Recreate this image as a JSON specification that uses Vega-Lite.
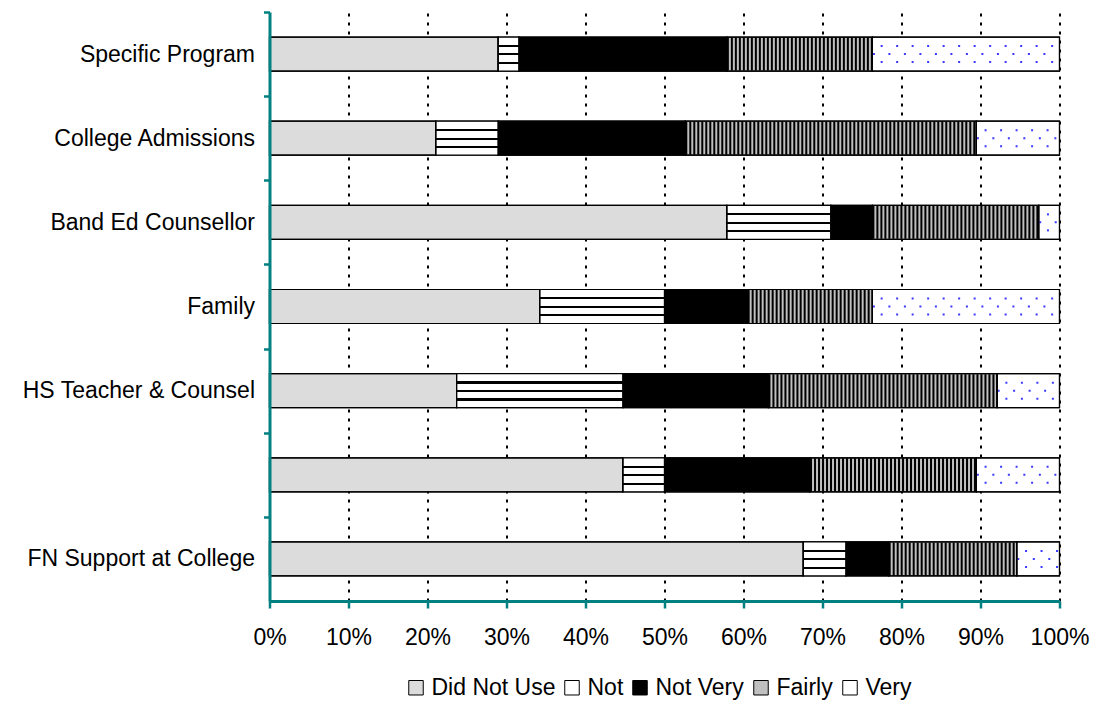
{
  "$schema": "https://vega.github.io/schema/vega-lite/v6.json",
  "width": 790,
  "height": 589,
  "autosize": {"type": "none"},
  "padding": {"left": 269.5, "top": 12, "right": 36.5, "bottom": 102},
  "background": "white",
  "config": {
    "font": "Liberation Sans",
    "view": {"stroke": null},
    "axis": {"labelFont": "Liberation Sans", "labelFontSize": 23, "labelColor": "#000", "title": null},
    "legend": {"labelFont": "Liberation Sans", "labelFontSize": 23, "labelColor": "#000", "padding": 0}
  },
  "data": {
    "values": [
      {"source": "Specific Program", "response": "Did Not Use", "k": 1, "n": 11},
      {"source": "Specific Program", "response": "Not", "k": 2, "n": 1},
      {"source": "Specific Program", "response": "Not Very", "k": 3, "n": 10},
      {"source": "Specific Program", "response": "Fairly", "k": 4, "n": 7},
      {"source": "Specific Program", "response": "Very", "k": 5, "n": 9},
      {"source": "College Admissions", "response": "Did Not Use", "k": 1, "n": 8},
      {"source": "College Admissions", "response": "Not", "k": 2, "n": 3},
      {"source": "College Admissions", "response": "Not Very", "k": 3, "n": 9},
      {"source": "College Admissions", "response": "Fairly", "k": 4, "n": 14},
      {"source": "College Admissions", "response": "Very", "k": 5, "n": 4},
      {"source": "Band Ed Counsellor", "response": "Did Not Use", "k": 1, "n": 22},
      {"source": "Band Ed Counsellor", "response": "Not", "k": 2, "n": 5},
      {"source": "Band Ed Counsellor", "response": "Not Very", "k": 3, "n": 2},
      {"source": "Band Ed Counsellor", "response": "Fairly", "k": 4, "n": 8},
      {"source": "Band Ed Counsellor", "response": "Very", "k": 5, "n": 1},
      {"source": "Family", "response": "Did Not Use", "k": 1, "n": 13},
      {"source": "Family", "response": "Not", "k": 2, "n": 6},
      {"source": "Family", "response": "Not Very", "k": 3, "n": 4},
      {"source": "Family", "response": "Fairly", "k": 4, "n": 6},
      {"source": "Family", "response": "Very", "k": 5, "n": 9},
      {"source": "HS Teacher & Counsel", "response": "Did Not Use", "k": 1, "n": 9},
      {"source": "HS Teacher & Counsel", "response": "Not", "k": 2, "n": 8},
      {"source": "HS Teacher & Counsel", "response": "Not Very", "k": 3, "n": 7},
      {"source": "HS Teacher & Counsel", "response": "Fairly", "k": 4, "n": 11},
      {"source": "HS Teacher & Counsel", "response": "Very", "k": 5, "n": 3},
      {"source": " ", "response": "Did Not Use", "k": 1, "n": 17},
      {"source": " ", "response": "Not", "k": 2, "n": 2},
      {"source": " ", "response": "Not Very", "k": 3, "n": 7},
      {"source": " ", "response": "Fairly", "k": 4, "n": 8},
      {"source": " ", "response": "Very", "k": 5, "n": 4},
      {"source": "FN Support at College", "response": "Did Not Use", "k": 1, "n": 25},
      {"source": "FN Support at College", "response": "Not", "k": 2, "n": 2},
      {"source": "FN Support at College", "response": "Not Very", "k": 3, "n": 2},
      {"source": "FN Support at College", "response": "Fairly", "k": 4, "n": 6},
      {"source": "FN Support at College", "response": "Very", "k": 5, "n": 2}
    ]
  },
  "transform": [
    {"stack": "n", "groupby": ["source"], "sort": [{"field": "k", "order": "ascending"}], "offset": "normalize", "as": ["x0", "x1"]}
  ],
  "encoding": {
    "y": {
      "field": "source",
      "type": "nominal",
      "sort": null,
      "scale": {"paddingInner": 0.596, "paddingOuter": 0.298},
      "axis": {
        "zindex": 1,
        "domainColor": "#008080",
        "domainWidth": 3,
        "tickColor": "#008080",
        "tickWidth": 2.5,
        "tickSize": 6,
        "bandPosition": 0,
        "tickOffset": -25.07,
        "labelOffset": 25.07,
        "labelPadding": 9,
        "labelLimit": 0
      }
    },
    "x": {
      "field": "x0",
      "type": "quantitative",
      "scale": {"domain": [0, 1], "nice": false},
      "axis": {
        "values": [0, 0.1, 0.2, 0.3, 0.4, 0.5, 0.6, 0.7, 0.8, 0.9, 1],
        "format": ".0%",
        "labelOverlap": false,
        "labelFlush": false,
        "labelBound": false,
        "domainColor": "#008080",
        "domainWidth": 3,
        "tickColor": "#008080",
        "tickWidth": 2.5,
        "tickSize": 7,
        "labelPadding": 18,
        "grid": true,
        "gridColor": "#000",
        "gridWidth": 2,
        "gridDash": [3, 6]
      }
    },
    "x2": {"field": "x1"}
  },
  "layer": [
    {
      "mark": {"type": "bar", "strokeWidth": 1.2},
      "encoding": {
        "fill": {
          "field": "response",
          "type": "nominal",
          "scale": {
            "domain": ["Did Not Use", "Not", "Not Very", "Fairly", "Very"],
            "range": ["#dcdcdc", "#ffffff", "#000000", "#c0c0c0", "#ffffff"]
          },
          "legend": {
            "orient": "none",
            "direction": "horizontal",
            "legendX": 135,
            "legendY": 664,
            "title": null,
            "symbolType": "square",
            "symbolSize": 210,
            "symbolStrokeWidth": 1,
            "symbolOpacity": 1,
            "labelOffset": 4,
            "columnPadding": 5
          }
        },
        "stroke": {
          "field": "response",
          "type": "nominal",
          "scale": {
            "domain": ["Did Not Use", "Not", "Not Very", "Fairly", "Very"],
            "range": ["#000000", "#000000", "#000000", "#000000", "#000000"]
          },
          "legend": {
            "orient": "none",
            "direction": "horizontal",
            "legendX": 135,
            "legendY": 664,
            "title": null,
            "symbolType": "square",
            "symbolSize": 210,
            "symbolStrokeWidth": 1,
            "symbolOpacity": 1,
            "labelOffset": 4,
            "columnPadding": 5
          }
        }
      }
    },
    {
      "transform": [{"filter": "datum.response === 'Not'"}],
      "mark": {"type": "bar", "fill": {"gradient": "linear", "x1": 0, "y1": 0, "x2": 0, "y2": 1, "stops": [
        {"offset": 0, "color": "#ffffff"}, {"offset": 0.23, "color": "#ffffff"},
        {"offset": 0.23, "color": "#000000"}, {"offset": 0.29, "color": "#000000"},
        {"offset": 0.29, "color": "#ffffff"}, {"offset": 0.48, "color": "#ffffff"},
        {"offset": 0.48, "color": "#000000"}, {"offset": 0.54, "color": "#000000"},
        {"offset": 0.54, "color": "#ffffff"}, {"offset": 0.73, "color": "#ffffff"},
        {"offset": 0.73, "color": "#000000"}, {"offset": 0.79, "color": "#000000"},
        {"offset": 0.79, "color": "#ffffff"}, {"offset": 1, "color": "#ffffff"}
      ]}}
    },
    {
      "transform": [{"filter": "datum.response === 'Fairly'"}],
      "mark": {"type": "rule", "color": "#000000", "strokeWidth": 33, "strokeDash": [2, 2]},
      "encoding": {}
    },
    {
      "transform": [{"filter": "datum.response === 'Very'"}],
      "mark": {"type": "rule", "color": "#3a3aff", "strokeWidth": 2, "strokeDash": [2, 13.5], "strokeDashOffset": 7.25, "yOffset": -8},
      "encoding": {}
    },
    {
      "transform": [{"filter": "datum.response === 'Very'"}],
      "mark": {"type": "rule", "color": "#3a3aff", "strokeWidth": 2, "strokeDash": [2, 13.5], "strokeDashOffset": -0.5},
      "encoding": {}
    },
    {
      "transform": [{"filter": "datum.response === 'Very'"}],
      "mark": {"type": "rule", "color": "#3a3aff", "strokeWidth": 2, "strokeDash": [2, 13.5], "strokeDashOffset": 7.25, "yOffset": 8},
      "encoding": {}
    },
    {
      "mark": {"type": "bar", "filled": false, "stroke": "#000", "strokeWidth": 1.2}
    }
  ]
}
